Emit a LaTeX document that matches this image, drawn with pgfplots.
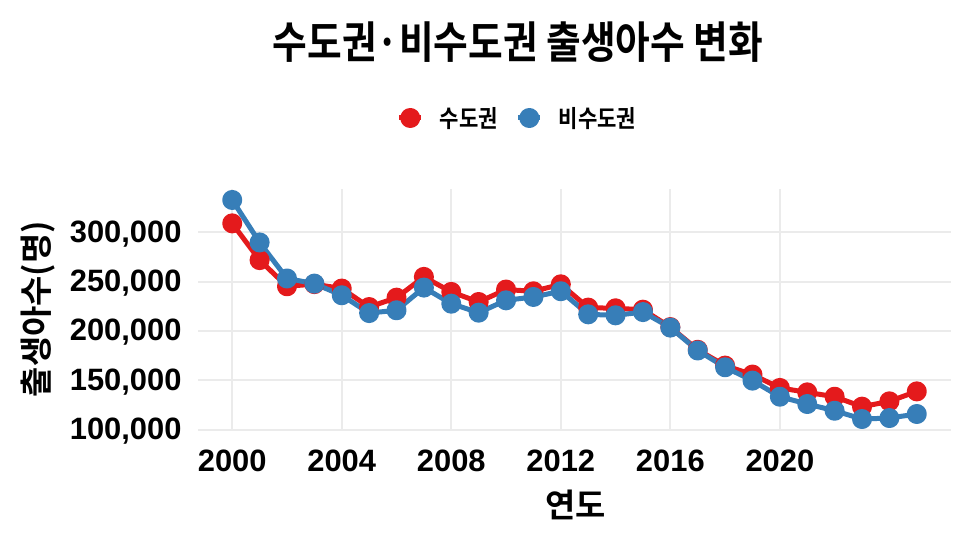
\documentclass[border=0pt]{standalone}
\usepackage{fontspec}
\setmainfont{Liberation Sans}
\newfontfamily\cjk{Noto Sans CJK KR}[BoldFont={Noto Sans CJK KR Bold}]
\usepackage{graphicx}
\usepackage{pgfplots}
\pgfplotsset{compat=1.18}
\definecolor{cred}{HTML}{E41A1C}
\definecolor{cblue}{HTML}{377EB8}
\definecolor{cgrid}{HTML}{EBEBEB}

\pgfplotstableread{
year capital noncapital
2000 309000 332700
2001 271800 289700
2002 245300 253200
2003 247500 248000
2004 243000 236200
2005 224300 218200
2006 233800 221000
2007 254800 244000
2008 239600 227700
2009 229400 218600
2010 242000 231100
2011 240200 234500
2012 247300 240300
2013 223700 216900
2014 223000 215900
2015 221600 219200
2016 204000 203500
2017 181000 180300
2018 165000 163300
2019 155900 149800
2020 142400 133500
2021 137900 126100
2022 133500 119300
2023 123400 110900
2024 128800 111900
2025 138900 116000
}\births

\begin{document}
\begin{tikzpicture}
\path[use as bounding box] (-198bp,-114bp) rectangle (772bp,430bp);
\begin{axis}[
  at={(0,0)}, anchor=south west,
  scale only axis, width=753bp, height=241bp,
  xmin=1998.75, xmax=2026.25, ymin=99800, ymax=343800,
  axis line style={draw=none},
  major tick length=0pt,
  xtick={2000,2004,...,2020},
  ytick={100000,150000,...,300000},
  grid=major, grid style={cgrid, line width=2bp},
  scaled y ticks=false,
  /pgf/number format/assume math mode=true,
  yticklabel style={/pgf/number format/fixed, /pgf/number format/precision=0, /pgf/number format/1000 sep={,}, xshift=-13bp, yshift=-1.5bp},
  xticklabel style={/pgf/number format/1000 sep={}, yshift=-16bp},
  tick label style={font=\fontsize{31}{31}\selectfont\bfseries},
  legend style={at={(0.4243,1.2946)}, anchor=center, draw=none, fill=none,
    font=\cjk\bfseries\fontsize{24}{24}\selectfont,
    /tikz/every even column/.append style={column sep=0bp}},
  legend columns=2,
  legend image code/.code={\draw[mark repeat=2,mark phase=2,#1] plot coordinates {(0bp,0bp)(11bp,0bp)(22bp,0bp)};},
]
\addplot[cred, line width=5bp, line join=round, mark=*, mark size=7.5bp, mark options={solid}] table[x=year,y=capital]{\births};
\addlegendentry{\hspace*{14bp}\scalebox{0.88}[1]{수도권}\hspace*{16bp}}
\addplot[cblue, line width=5bp, line join=round, mark=*, mark size=7.5bp, mark options={solid}] table[x=year,y=noncapital]{\births};
\addlegendentry{\hspace*{14bp}\scalebox{0.88}[1]{비수도권}}
\end{axis}
\node[font=\cjk\bfseries\fontsize{44}{44}\selectfont] at (320bp,388bp) {\scalebox{0.86}[1]{수도권·비수도권 출생아수 변화}};
\node[font=\cjk\bfseries\fontsize{33}{33}\selectfont, rotate=90] at (-160bp,121bp) {출생아수(명)};
\node[font=\cjk\bfseries\fontsize{33}{33}\selectfont] at (377.5bp,-75bp) {연도};
\end{tikzpicture}
\end{document}
